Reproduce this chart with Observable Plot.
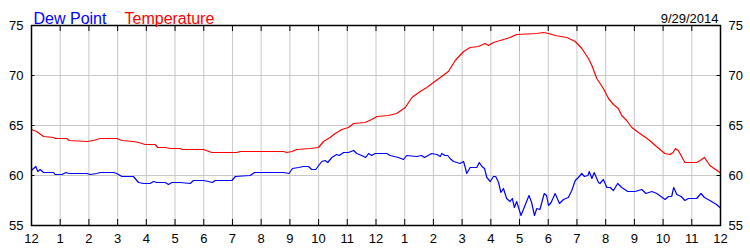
<!DOCTYPE html>
<html>
<head>
<meta charset="utf-8">
<script src="https://cdn.jsdelivr.net/npm/d3@7"></script>
<script src="https://cdn.jsdelivr.net/npm/@observablehq/plot@0.6"></script>
<style>
  html, body { margin: 0; padding: 0; background: white; }
</style>
</head>
<body>
<div id="chart"></div>
<script>
// ---- Data (hours since midnight, °F) ----
const hourTicks = [0,1,2,3,4,5,6,7,8,9,10,11,12,13,14,15,16,17,18,19,20,21,22,23,24];
const hourLabels = ["12","1","2","3","4","5","6","7","8","9","10","11","12","1","2","3","4","5","6","7","8","9","10","11","12"];
const yTicks = [55, 60, 65, 70, 75];
const seriesNames = ["Dew Point", "Temperature"];
const dateLabel = "9/29/2014";

const tempHours = [0,0.18,0.42,0.77,0.83,1.23,1.31,1.93,2.16,2.39,2.97,3.15,3.55,3.73,3.96,4.31,4.4,4.66,4.83,5.18,5.24,5.99,6.28,7.15,7.27,8.78,8.89,9.07,9.24,9.71,10.0,10.17,10.4,10.58,10.81,11.04,11.22,11.62,11.85,12.03,12.43,12.72,13.02,13.25,13.54,13.77,14.0,14.24,14.52,14.76,15.05,15.28,15.57,15.8,15.92,16.09,16.44,16.67,16.9,17.6,17.83,18.01,18.24,18.65,18.94,19.17,19.4,19.52,19.69,19.92,20.1,20.27,20.44,20.56,20.73,20.91,21.14,21.49,21.77,22.06,22.24,22.35,22.43,22.53,22.76,23.17,23.29,23.44,23.63,23.98];
const tempValues = [64.6,64.4,63.9,63.8,63.7,63.7,63.5,63.4,63.5,63.7,63.7,63.5,63.4,63.3,63.1,63.1,62.8,62.8,62.7,62.7,62.6,62.6,62.3,62.3,62.4,62.4,62.3,62.4,62.6,62.7,62.8,63.4,63.8,64.2,64.6,64.8,65.2,65.3,65.6,65.9,66.0,66.2,66.8,67.8,68.4,68.8,69.3,69.8,70.4,71.5,72.4,72.8,72.9,73.2,73.0,73.3,73.6,73.8,74.1,74.2,74.3,74.2,74.0,73.8,73.4,72.7,71.7,71.0,69.7,68.7,67.7,67.1,66.7,66.0,65.5,64.8,64.3,63.6,62.9,62.2,62.1,62.3,62.7,62.5,61.3,61.3,61.5,61.8,61.0,60.3];

const dewHours = [0,0.15,0.22,0.3,0.42,0.77,0.82,1.06,1.2,1.31,1.93,2.04,2.28,2.39,2.86,2.97,3.15,3.55,3.73,3.9,4.13,4.25,4.37,4.66,4.77,4.89,5.18,5.53,5.64,5.99,6.17,6.3,6.4,6.98,7.1,7.62,7.77,8.78,8.97,9.09,9.3,9.47,9.65,9.76,9.9,10.11,10.23,10.32,10.46,10.63,10.72,10.87,11.04,11.22,11.33,11.5,11.64,11.74,11.85,11.97,12.38,12.49,12.78,12.96,13.07,13.42,13.59,13.69,13.94,14.12,14.24,14.29,14.4,14.5,14.58,14.7,14.93,15.05,15.1,15.16,15.28,15.51,15.6,15.69,15.78,15.86,15.98,16.09,16.17,16.27,16.35,16.44,16.55,16.67,16.75,16.82,16.9,17.05,17.19,17.33,17.42,17.52,17.6,17.71,17.86,17.94,18.01,18.1,18.24,18.39,18.53,18.7,18.82,18.94,19.05,19.17,19.26,19.38,19.43,19.52,19.6,19.75,19.8,19.92,20.04,20.16,20.27,20.42,20.56,20.77,21.03,21.26,21.4,21.61,21.78,22.07,22.19,22.3,22.37,22.48,22.63,22.76,22.88,23.17,23.32,23.44,23.63,23.86,23.98];
const dewValues = [60.5,60.9,60.4,60.6,60.3,60.3,60.1,60.1,60.3,60.2,60.2,60.1,60.2,60.3,60.3,60.2,59.9,59.9,59.3,59.2,59.2,59.4,59.3,59.3,59.1,59.3,59.3,59.2,59.5,59.5,59.4,59.3,59.5,59.5,59.9,60.0,60.3,60.3,60.2,60.7,60.8,60.9,60.9,60.6,60.6,61.4,61.5,61.3,61.8,62.1,62.0,62.3,62.3,62.5,62.2,62.0,61.8,62.2,62.0,62.2,62.2,62.0,61.8,61.6,62.0,61.9,62.0,61.8,62.2,62.1,61.9,62.2,62.0,62.0,61.7,61.4,61.2,61.4,60.9,60.2,60.8,60.8,61.3,60.9,60.7,59.8,59.4,59.9,59.9,59.3,58.3,58.7,57.7,57.4,57.7,56.8,57.4,56.0,57.0,58.0,57.3,56.0,56.7,56.6,58.2,58.0,57.0,57.3,58.2,57.2,57.6,57.8,58.5,59.5,59.8,60.2,59.9,60.0,60.4,59.7,60.3,59.3,59.2,59.6,58.8,58.8,58.5,59.2,58.8,58.4,58.4,58.6,58.2,58.4,58.2,57.6,57.9,57.9,58.8,58.1,57.9,57.5,57.7,57.7,58.2,57.8,57.5,57.1,56.8];

const temp = tempHours.map((h, i) => ({h, v: tempValues[i]}));
const dew = dewHours.map((h, i) => ({h, v: dewValues[i]}));

const chart = Plot.plot({
  width: 750,
  height: 250,
  marginLeft: 31,
  marginRight: 30,
  marginTop: 25,
  marginBottom: 25,
  x: {domain: [0, 24]},
  y: {domain: [55, 75]},
  style: {fontFamily: "'Liberation Sans', Arial, sans-serif", fontSize: "13px", background: "white", color: "black"},
  marks: [
    Plot.gridX(hourTicks.slice(1, -1), {stroke: "#c8c8c8", strokeOpacity: 1}),
    Plot.gridY(yTicks.slice(1, -1), {stroke: "#c8c8c8", strokeOpacity: 1}),
    Plot.line(temp, {x: "h", y: "v", stroke: "#ff0000", strokeWidth: 1.2}),
    Plot.line(dew, {x: "h", y: "v", stroke: "#0000ff", strokeWidth: 1.2}),
    Plot.ruleX(hourTicks, {x: d => d, y1: 55, y2: 55.6, stroke: "black"}),
    Plot.ruleX(hourTicks, {x: d => d, y1: 74.4, y2: 75, stroke: "black"}),
    Plot.ruleY(yTicks.slice(1, -1), {y: d => d, x1: 0, x2: 0.12, stroke: "black"}),
    Plot.ruleY(yTicks.slice(1, -1), {y: d => d, x1: 23.88, x2: 24, stroke: "black"}),
    Plot.frame({stroke: "black", strokeWidth: 1.5}),
    Plot.axisX(hourTicks, {anchor: "bottom", tickSize: 0, tickPadding: 8, tickFormat: d => hourLabels[d], label: null, fontSize: 13}),
    Plot.axisY(yTicks, {anchor: "left", tickSize: 0, tickPadding: 8, label: null, fontSize: 13}),
    Plot.axisY(yTicks, {anchor: "right", tickSize: 0, tickPadding: 8, label: null, fontSize: 13}),
    Plot.text([seriesNames[0]], {text: d => d, frameAnchor: "top-left", textAnchor: "start", dx: 2, dy: -13, fill: "#0000ff", fontSize: 16}),
    Plot.text([seriesNames[1]], {text: d => d, frameAnchor: "top-left", textAnchor: "start", dx: 93, dy: -13, fill: "#ff0000", fontSize: 16}),
    Plot.text([dateLabel], {text: d => d, frameAnchor: "top-right", textAnchor: "end", dx: -2, dy: -12, fill: "black", fontSize: 13})
  ]
});
document.getElementById("chart").appendChild(chart);
</script>
</body>
</html>
